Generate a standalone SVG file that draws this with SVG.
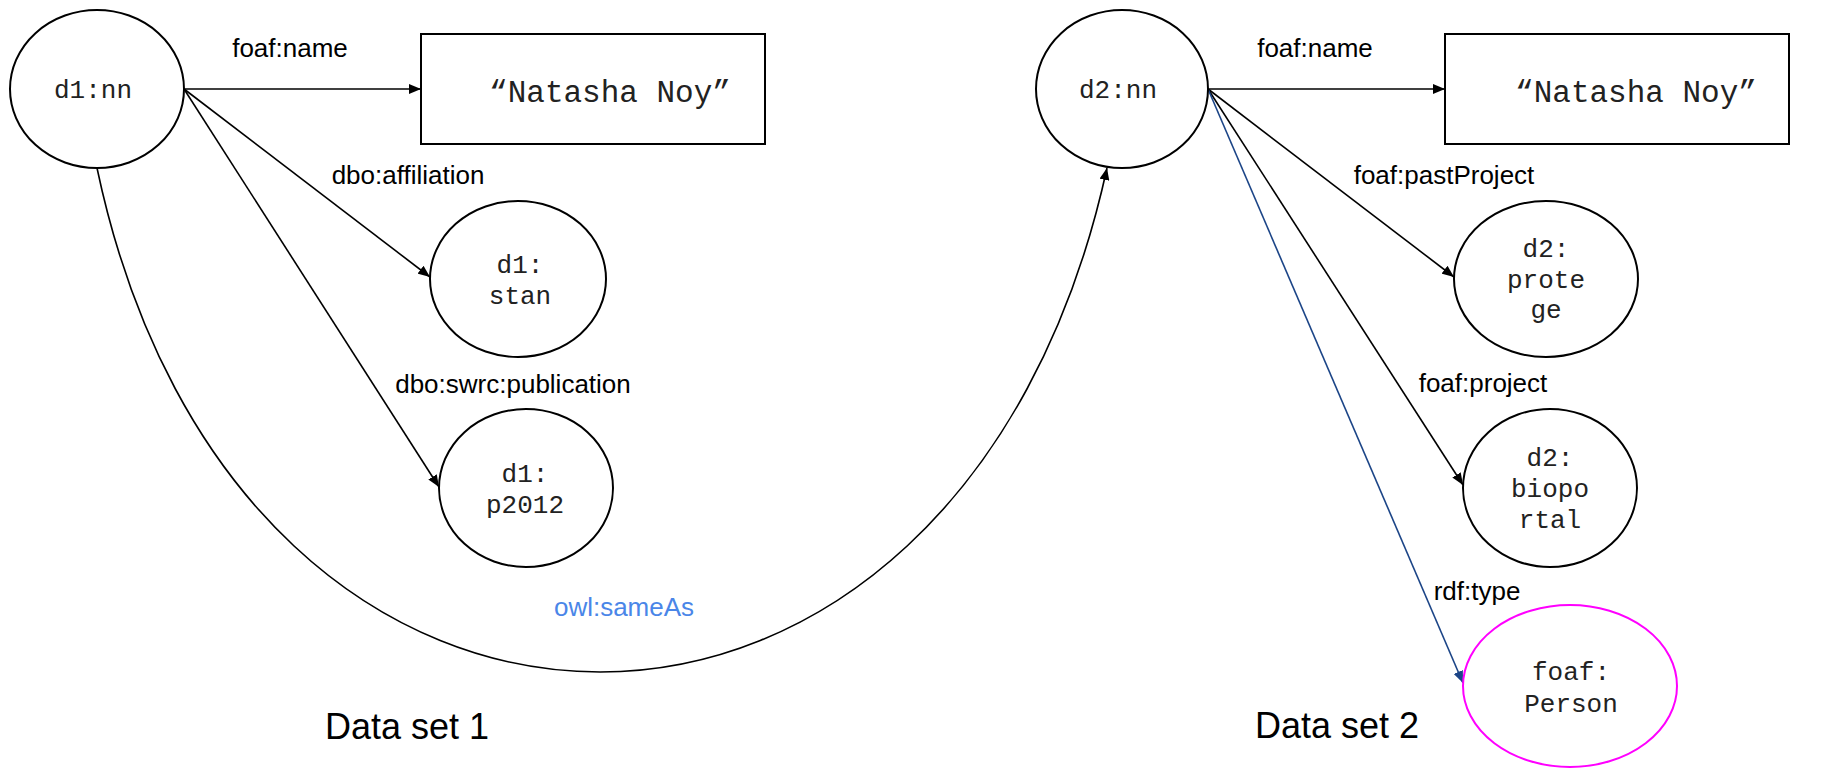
<svg xmlns="http://www.w3.org/2000/svg" width="1821" height="768" viewBox="0 0 1821 768">
  <defs>
    <marker id="arrow" viewBox="0 0 12 10" refX="12" refY="5" markerWidth="12" markerHeight="10" markerUnits="userSpaceOnUse" orient="auto">
      <path d="M0,0 L12,5 L0,10 Z" fill="#000"/>
    </marker>
    <marker id="arrow-navy" viewBox="0 0 12 10" refX="12" refY="5" markerWidth="12" markerHeight="10" markerUnits="userSpaceOnUse" orient="auto">
      <path d="M0,0 L12,5 L0,10 Z" fill="#1c4587"/>
    </marker>
  </defs>
  <style>
    .node { fill: #fff; stroke: #000; stroke-width: 2; }
    .class-node { fill: #fff; stroke: #ff00ff; stroke-width: 2; }
    .id { font-family: "Liberation Mono", "Courier New", monospace; font-size: 26px; fill: #222; text-anchor: middle; }
    .lit { font-family: "Liberation Mono", "Courier New", monospace; font-size: 31px; fill: #222; text-anchor: middle; }
    .edge { fill: none; stroke: #000; stroke-width: 1.6; marker-end: url(#arrow); }
    .edge-type { fill: none; stroke: #1c4587; stroke-width: 1.6; marker-end: url(#arrow-navy); }
    .label { font-family: "Liberation Sans", Arial, sans-serif; font-size: 26px; fill: #000; text-anchor: middle; }
    .same { fill: #4a86e8; }
    .title { font-family: "Liberation Sans", Arial, sans-serif; font-size: 36px; fill: #000; text-anchor: middle; }
  </style>

  <rect width="1821" height="768" fill="#fff"/>

  <!-- connectors -->
  <g id="connectors">
    <line class="edge" x1="184" y1="89" x2="421" y2="89"/>
    <line class="edge" x1="184" y1="89" x2="430" y2="277"/>
    <line class="edge" x1="184" y1="89" x2="439" y2="487"/>
    <path class="edge" d="M97,168 C239,840 960,840 1107,168"/>
    <line class="edge" x1="1208" y1="89" x2="1445" y2="89"/>
    <line class="edge" x1="1208" y1="89" x2="1454" y2="277"/>
    <line class="edge" x1="1208" y1="89" x2="1463" y2="485"/>
    <line class="edge-type" x1="1208" y1="89" x2="1463" y2="683"/>

    <text class="label" x="290" y="57">foaf:name</text>
    <text class="label" x="408" y="184">dbo:affiliation</text>
    <text class="label" x="513" y="393">dbo:swrc:publication</text>
    <text class="label same" x="624" y="616">owl:sameAs</text>
    <text class="label" x="1315" y="57">foaf:name</text>
    <text class="label" x="1444" y="184">foaf:pastProject</text>
    <text class="label" x="1483" y="392">foaf:project</text>
    <text class="label" x="1477" y="600">rdf:type</text>
  </g>

  <!-- data set 1 -->
  <g id="d1-nn">
    <ellipse class="node" cx="97" cy="89" rx="87" ry="79"/>
    <text class="id" x="93" y="98">d1:nn</text>
  </g>
  <g id="d1-name">
    <rect class="node" x="421" y="34" width="344" height="110"/>
    <text class="lit" x="610" y="102">“Natasha Noy”</text>
  </g>
  <g id="d1-stan">
    <ellipse class="node" cx="518" cy="279" rx="88" ry="78"/>
    <text class="id" x="520" y="273">d1:</text>
    <text class="id" x="520" y="304">stan</text>
  </g>
  <g id="d1-p2012">
    <ellipse class="node" cx="526" cy="488" rx="87" ry="79"/>
    <text class="id" x="525" y="482">d1:</text>
    <text class="id" x="525" y="513">p2012</text>
  </g>
  <g id="title-1">
    <text class="title" x="407" y="739">Data set 1</text>
  </g>

  <!-- data set 2 -->
  <g id="d2-nn">
    <ellipse class="node" cx="1122" cy="89" rx="86" ry="79"/>
    <text class="id" x="1118" y="98">d2:nn</text>
  </g>
  <g id="d2-name">
    <rect class="node" x="1445" y="34" width="344" height="110"/>
    <text class="lit" x="1636" y="102">“Natasha Noy”</text>
  </g>
  <g id="d2-protege">
    <ellipse class="node" cx="1546" cy="279" rx="92" ry="78"/>
    <text class="id" x="1546" y="257">d2:</text>
    <text class="id" x="1546" y="288">prote</text>
    <text class="id" x="1546" y="318">ge</text>
  </g>
  <g id="d2-bioportal">
    <ellipse class="node" cx="1550" cy="488" rx="87" ry="79"/>
    <text class="id" x="1550" y="466">d2:</text>
    <text class="id" x="1550" y="497">biopo</text>
    <text class="id" x="1550" y="528">rtal</text>
  </g>
  <g id="foaf-person">
    <ellipse class="class-node" cx="1570" cy="686" rx="107" ry="81"/>
    <text class="id" x="1571" y="680">foaf:</text>
    <text class="id" x="1571" y="712">Person</text>
  </g>
  <g id="title-2">
    <text class="title" x="1337" y="738">Data set 2</text>
  </g>
</svg>
